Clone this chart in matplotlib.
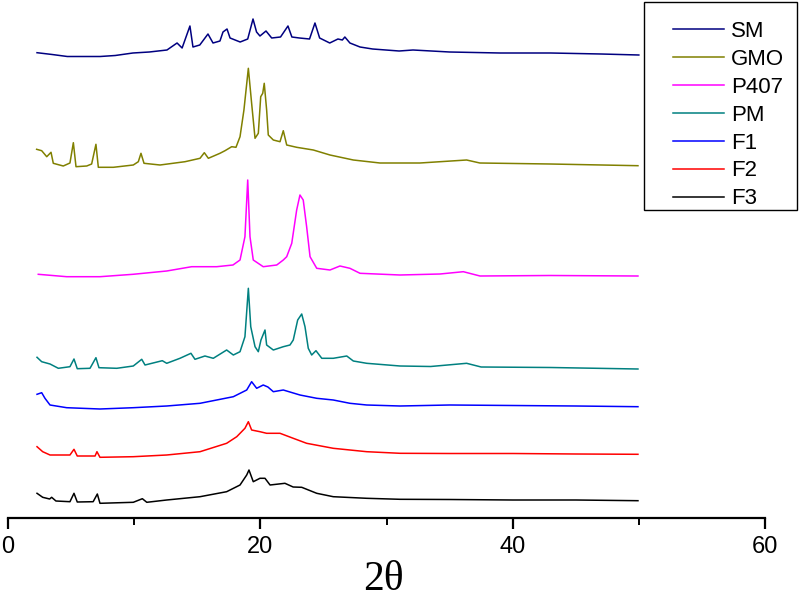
import matplotlib.pyplot as plt
from matplotlib.patches import Rectangle

# XRD patterns, 2theta vs. relative intensity (a.u.), stacked with offsets
sm_x = [2.3, 3.5, 4.7, 6.0, 7.3, 8.5, 9.9, 11.2, 12.6, 13.4, 13.8, 14.42, 14.66, 15.2,
        15.85, 16.25, 16.8, 17.04, 17.36, 17.6, 18.4, 19.0, 19.42, 19.7, 19.97, 20.45,
        20.9, 21.6, 22.19, 22.5, 23.1, 23.9, 24.33, 24.7, 25.5, 26.15, 26.5, 26.7, 27.1,
        27.9, 28.9, 31.0, 32.1, 35.0, 39.0, 43.0, 47.0, 50.0]
sm_y = [5.3, 3.5, 1.5, 1.5, 1.5, 2.5, 5, 6, 8, 15, 10, 32, 11, 13,
        24, 15, 17, 26, 29, 20, 16, 19, 39, 26, 22, 27,
        20, 21, 32, 21, 20, 19, 35, 20, 15, 19, 18, 21, 15,
        11, 9, 7, 8, 6, 5, 5, 4, 3]

gmo_x = [2.27, 2.67, 3.07, 3.41, 3.59, 4.38, 4.91, 5.18, 5.39, 6.24, 6.63, 6.97, 7.16,
         8.35, 9.93, 10.33, 10.54, 10.78, 12.05, 14.03, 15.22, 15.56, 15.88, 16.8, 17.2,
         17.73, 18.07, 18.39, 18.7, 19.05, 19.31, 19.58, 19.84, 20.03, 20.19, 20.31, 20.5,
         20.63, 21.03, 21.56, 21.82, 22.09, 22.88, 24.2, 25.52, 27.37, 29.48, 32.65,
         36.35, 37.4, 42.96, 49.93]
gmo_y = [18.7, 17.3, 11.3, 15.7, 4.7, 2, 5, 25.3, 1.3, 2, 4, 23.7, 0.7,
         0.7, 3, 6.3, 14.7, 4.7, 3, 6.3, 9.7, 15.3, 9.7, 14.7, 17.3,
         21.3, 20.7, 31.3, 58, 99.7, 64.7, 29.7, 34.7, 71.3, 74.7, 84.7, 58,
         33, 28, 26.3, 37.3, 23, 20.7, 18, 13, 8, 5, 5,
         8, 5, 4, 2.3]

p407_x = [2.4, 4.65, 7.29, 9.91, 12.58, 14.56, 16.54, 17.83, 18.39, 18.78, 19.0, 19.18,
          19.44, 20.23, 21.3, 21.82, 22.09, 22.49, 22.88, 23.14, 23.4, 23.67, 23.94,
          24.47, 25.52, 26.31, 27.1, 27.9, 31.07, 34.24, 36.09, 37.41, 42.96, 49.93]
p407_y = [3.7, 1.3, 1.3, 3.7, 7, 11.3, 11.3, 13, 18, 41.3, 98, 41.3,
          18, 11.3, 13, 18, 21.3, 34.7, 68, 83, 78, 51.3, 21.3,
          9.7, 8, 12, 9.7, 4.7, 3, 4, 6.3, 2, 2.5, 2]

pm_x = [2.3, 2.67, 3.33, 3.99, 4.91, 5.23, 5.49, 6.5, 6.97, 7.21, 8.62, 9.93, 10.6,
        10.86, 12.23, 12.58, 13.63, 14.5, 14.82, 15.61, 16.27, 17.33, 17.86, 18.39,
        18.78, 19.05, 19.24, 19.58, 19.84, 20.05, 20.37, 20.5, 21.03, 21.82, 22.35,
        22.61, 22.96, 23.28, 23.54, 23.8, 24.07, 24.41, 24.87, 25.78, 26.85, 27.37,
        28.43, 31.07, 33.5, 36.35, 37.5, 43.0, 49.93]
pm_y = [12.7, 8.3, 6, 1.7, 3.3, 11, 1.3, 1.7, 12.3, 2.3, 1.7, 4, 10.7,
        5, 9.3, 6.7, 11.7, 16.7, 10.7, 14, 11.7, 20, 15, 18.3,
        33.3, 81.7, 43.3, 23.3, 18.3, 30, 40, 25, 20, 23.3, 25,
        30, 50, 56, 43.3, 21.7, 15, 19.3, 11.7, 11.7, 14, 9,
        6.7, 4, 3.5, 6.7, 3, 2.5, 1]

f1_x = [2.3, 2.67, 2.93, 3.33, 4.65, 7.29, 9.93, 12.58, 15.22, 17.86, 18.92, 19.31,
        19.71, 20.23, 20.6, 21.03, 21.82, 23.14, 24.47, 25.78, 27.1, 28.43, 31.07,
        35.0, 40.0, 45.0, 49.93]
f1_y = [15.7, 17.3, 11.7, 5, 2.3, 1, 2.3, 4, 6.7, 13.3, 20, 28.3,
        21.7, 25, 23, 18.3, 20, 15, 11.7, 10, 6.7, 5, 4,
        5, 4.5, 4, 3.3]

f2_x = [2.3, 2.75, 3.33, 4.91, 5.23, 5.49, 6.9, 7.05, 7.29, 9.93, 12.58, 15.22, 17.33,
        18.13, 18.78, 19.05, 19.31, 19.97, 20.5, 21.56, 22.61, 23.67, 25.78, 28.43,
        31.07, 35.0, 40.0, 45.0, 49.93]
f2_y = [11.3, 6.3, 3, 3, 8.7, 2, 2, 6.3, 0.7, 1.3, 3, 6.3, 14.7,
        21.3, 29.7, 36.3, 28, 26.3, 24.7, 24.7, 19.7, 14.7, 9.7, 6.3,
        4.7, 4.5, 4.5, 4, 3.7]

f3_x = [2.3, 2.75, 3.3, 3.46, 3.8, 4.91, 5.23, 5.49, 6.75, 7.08, 7.29, 9.93, 10.65,
        11.0, 12.58, 15.22, 17.33, 18.39, 18.92, 19.1, 19.44, 19.97, 20.37, 20.77,
        21.95, 22.6, 23.28, 24.47, 25.78, 28.43, 31.07, 35.0, 40.0, 45.0, 49.93]
f3_y = [10.7, 6.7, 5, 6.7, 3, 2.3, 10.7, 2, 2.3, 10, 0.7, 1.7, 5.3,
        1.7, 4, 7.3, 12.3, 19, 29, 34, 22.3, 25.7, 25.7, 19,
        20.7, 17, 16.7, 10.7, 7.3, 5.7, 4.7, 4.5, 4, 4, 3.3]

labels = ['SM', 'GMO', 'P407', 'PM', 'F1', 'F2', 'F3']
colors = ['#000080', '#808000', '#ff00ff', '#008080', '#0000ff', '#ff0000', '#000000']
offsets = [460, 350, 240, 148, 108, 60, 14]
series = [(sm_x, sm_y), (gmo_x, gmo_y), (p407_x, p407_y), (pm_x, pm_y),
          (f1_x, f1_y), (f2_x, f2_y), (f3_x, f3_y)]

W, H = 799, 602
fig = plt.figure(figsize=(W / 100, H / 100), dpi=100)
ax = fig.add_axes([8 / W, (H - 518) / H, (765 - 8) / W, 518 / H])

handles = []
for (xs, ys), off, col, lab in zip(series, offsets, colors, labels):
    line, = ax.plot(xs, [y + off for y in ys], color=col, lw=1.1, label=lab)
    handles.append(line)

ax.set_xlim(0, 60)
ax.set_ylim(0, 518)
ax.set_xticks([0, 20, 40, 60])
ax.set_xticks([10, 30, 50], minor=True)
ax.set_yticks([])
for side in ('left', 'right', 'top'):
    ax.spines[side].set_visible(False)
ax.spines['bottom'].set_linewidth(1.6)
ax.tick_params(axis='x', which='major', direction='out', length=8, width=1.6,
               labelsize=17, pad=5)
ax.tick_params(axis='x', which='minor', direction='out', length=5, width=1.4)
for t in ax.get_xticklabels():
    t.set_family(['Liberation Sans Narrow', 'Liberation Sans', 'DejaVu Sans'])

fig.text(383 / W, 1 - 580 / H, '2θ', ha='center', va='center', fontsize=30,
         family=['Liberation Serif', 'DejaVu Serif'])

# legend box
fig.patches.append(Rectangle((644 / W, 1 - 210 / H), (797 - 644) / W, (210 - 2) / H,
                             transform=fig.transFigure, fill=False, ec='black', lw=1.0))
fig.legend(handles=handles, loc='upper left', bbox_to_anchor=(673 / W, 1 - 21 / H),
           frameon=False, handlelength=2.3, handletextpad=0.3,
           labelspacing=0.31, borderpad=0, borderaxespad=0,
           prop={'family': ['Liberation Sans', 'DejaVu Sans'], 'size': 16})

fig.savefig('out.png', dpi=100)
